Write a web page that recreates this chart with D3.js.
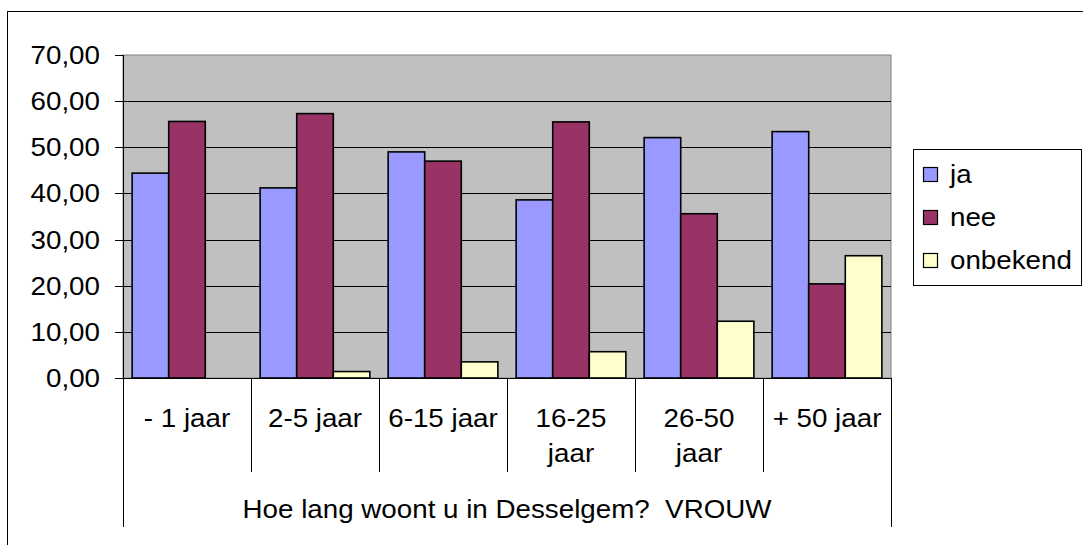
<!DOCTYPE html>
<html lang="nl">
<head>
    <meta charset="UTF-8">
    <title>Hoe lang woont u in Desselgem? VROUW</title>
    <script src="https://d3js.org/d3.v7.min.js"></script>
    <style>
        body {
            margin: 0;
            background: #fff;
        }

        text {
            font-family: "Liberation Sans", Arial, sans-serif;
            font-size: 25px;
            fill: #000;
            white-space: pre;
        }

        .grid line {
            stroke: #000;
            stroke-width: 1px;
        }

        .bar {
            stroke: #000;
            stroke-width: 1.6px;
        }
    </style>
</head>
<body>
<svg id="chart" width="1083" height="545"></svg>
<script>
    // chart data
    const categories = ["- 1 jaar", "2-5 jaar", "6-15 jaar", "16-25 jaar", "26-50 jaar", "+ 50 jaar"];
    const seriesNames = ["ja", "nee", "onbekend"];
    const ja = [44.4, 41.2, 49.0, 38.6, 52.1, 53.4];
    const nee = [55.6, 57.3, 47.0, 55.5, 35.6, 20.4];
    const onbekend = [0, 1.4, 3.5, 5.7, 12.3, 26.5];
    const yTicks = [0, 10, 20, 30, 40, 50, 60, 70];
    const axisTitle = "Hoe lang woont u in Desselgem?  VROUW";

    const colors = ["#9999ff", "#993366", "#ffffcc"];
    const stretch = 1.11; // the source text is a little wider than Arial

    const svg = d3.select("#chart");
    const plot = {left: 123, right: 891, top: 55, bottom: 378};

    // outer chart border
    svg.append("rect")
        .attr("x", 7.5).attr("y", 11.5)
        .attr("width", 1090).attr("height", 550)
        .attr("fill", "#fff").attr("stroke", "#000");

    const x = d3.scaleBand()
        .domain(categories)
        .range([plot.left, plot.right])
        .padding(0);

    const xSub = d3.scaleBand()
        .domain(seriesNames)
        .range([0, x.bandwidth()])
        .paddingInner(0)
        .paddingOuter(0.25);

    const y = d3.scaleLinear()
        .domain([0, 70])
        .range([plot.bottom, plot.top]);

    const nl = d3.formatLocale({decimal: ",", thousands: ".", grouping: [3], currency: ["", " €"]});
    const fmt = nl.format(".2f");

    // plot area
    svg.append("rect")
        .attr("x", plot.left).attr("y", plot.top)
        .attr("width", plot.right - plot.left)
        .attr("height", plot.bottom - plot.top)
        .attr("fill", "#c0c0c0")
        .attr("stroke", "#808080");

    // gridlines
    svg.append("g")
        .attr("class", "grid")
        .selectAll("line")
        .data(yTicks.filter(d => d > 0 && d < 70))
        .enter().append("line")
        .attr("x1", plot.left).attr("x2", plot.right)
        .attr("y1", d => Math.round(y(d)) + 0.5)
        .attr("y2", d => Math.round(y(d)) + 0.5);

    // bars
    const seriesData = [ja, nee, onbekend];
    const bars = [];
    seriesData.forEach((vals, s) => {
        vals.forEach((v, i) => {
            bars.push({cat: categories[i], series: seriesNames[s], value: v, color: colors[s]});
        });
    });

    svg.append("g")
        .selectAll("rect")
        .data(bars.filter(d => d.value > 0))
        .enter().append("rect")
        .attr("class", "bar")
        .attr("x", d => x(d.cat) + xSub(d.series))
        .attr("y", d => y(d.value))
        .attr("width", xSub.bandwidth())
        .attr("height", d => y(0) - y(d.value))
        .attr("fill", d => d.color);

    // value axis
    const yAxis = svg.append("g");
    yAxis.append("line")
        .attr("x1", plot.left + 0.5).attr("x2", plot.left + 0.5)
        .attr("y1", plot.top).attr("y2", plot.bottom)
        .attr("stroke", "#000");
    yAxis.selectAll(".tick")
        .data(yTicks)
        .enter().append("line")
        .attr("x1", plot.left - 8).attr("x2", plot.left)
        .attr("y1", d => Math.round(y(d)) + 0.5)
        .attr("y2", d => Math.round(y(d)) + 0.5)
        .attr("stroke", "#000");
    yAxis.selectAll("text")
        .data(yTicks)
        .enter().append("text")
        .attr("text-anchor", "end")
        .attr("transform", d => `translate(100,${y(d) + 9}) scale(${stretch},1)`)
        .text(d => fmt(d));

    // category axis (two levels)
    const xAxis = svg.append("g");
    xAxis.append("line")
        .attr("x1", plot.left).attr("x2", plot.right)
        .attr("y1", plot.bottom + 0.5).attr("y2", plot.bottom + 0.5)
        .attr("stroke", "#000");

    const bounds = categories.map(c => x(c)).concat([plot.right]);
    xAxis.selectAll(".divider")
        .data(bounds)
        .enter().append("line")
        .attr("x1", d => Math.round(d) + 0.5)
        .attr("x2", d => Math.round(d) + 0.5)
        .attr("y1", plot.bottom)
        .attr("y2", (d, i) => (i === 0 || i === bounds.length - 1) ? 527 : 472)
        .attr("stroke", "#000");

    // category labels, wrapped when too wide for the band
    const labels = xAxis.selectAll(".cat")
        .data(categories)
        .enter().append("text")
        .attr("text-anchor", "middle")
        .attr("transform", d => `translate(${x(d) + x.bandwidth() / 2},427) scale(${stretch},1)`)
        .text(d => d);

    labels.each(function (d) {
        const t = d3.select(this);
        if (this.getComputedTextLength() * stretch > x.bandwidth() - 10) {
            const words = d.split(" ");
            const last = words.pop();
            t.text(null);
            t.append("tspan").attr("x", 0).attr("dy", 0).text(words.join(" "));
            t.append("tspan").attr("x", 0).attr("dy", 35).text(last);
        }
    });

    xAxis.append("text")
        .attr("text-anchor", "middle")
        .attr("transform", `translate(${(plot.left + plot.right) / 2},518) scale(${stretch},1)`)
        .text(axisTitle);

    // legend
    const legend = svg.append("g");
    legend.append("rect")
        .attr("x", 913.5).attr("y", 149.5)
        .attr("width", 168).attr("height", 136)
        .attr("fill", "#fff").attr("stroke", "#000");

    const item = legend.selectAll(".item")
        .data(seriesNames)
        .enter().append("g")
        .attr("transform", (d, i) => `translate(0,${183 + i * 43})`);

    item.append("rect")
        .attr("x", 923.5).attr("y", -15.5)
        .attr("width", 14).attr("height", 14)
        .attr("fill", (d, i) => colors[i])
        .attr("stroke", "#000")
        .attr("stroke-width", 1.2);

    item.append("text")
        .attr("transform", `translate(950,0) scale(${stretch},1)`)
        .text(d => d);
</script>
</body>
</html>
